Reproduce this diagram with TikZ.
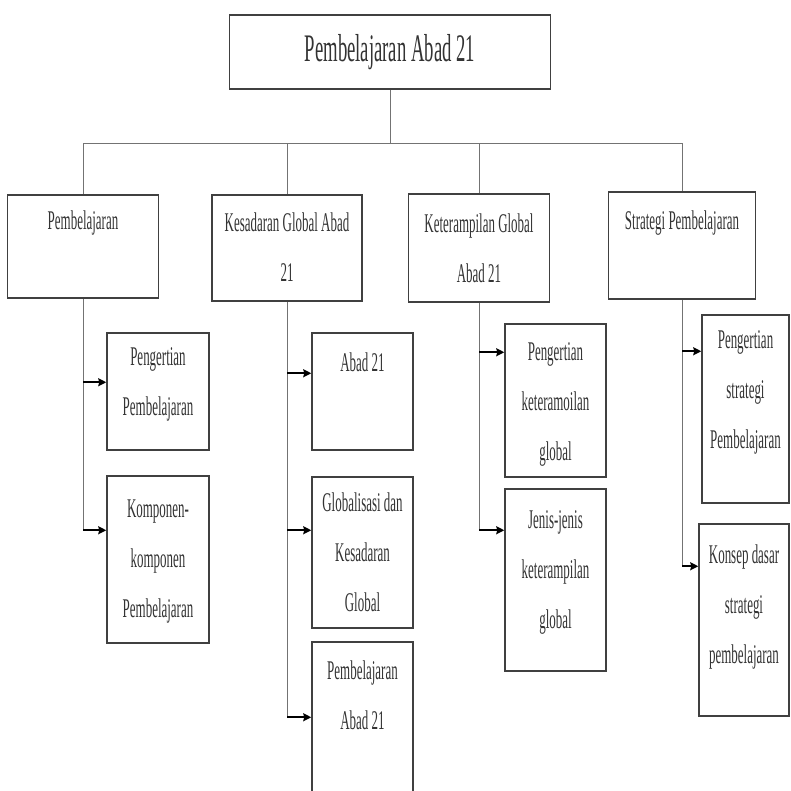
\documentclass[tikz,border=0pt]{standalone}
\usepackage{fontspec}
\newfontfamily\narrowserif[FakeStretch=0.48]{Liberation Serif}
\usetikzlibrary{arrows.meta, positioning}

\begin{document}
\begin{tikzpicture}[x=1pt, y=-1pt, >={Stealth[length=8pt, width=8pt, inset=1pt]}, thick]
  \tikzstyle{box} = [rectangle, draw=black!75, line width=1.5pt, inner sep=0pt]
  \tikzstyle{txt} = [align=center, inner sep=0pt, text=black!80, font=\narrowserif\fontsize{27pt}{50pt}\selectfont]
  \tikzstyle{line} = [draw=black!55, line width=0.9pt]
  \tikzstyle{arr} = [->, draw=black, line width=1.8pt]

  \useasboundingbox (0,0) rectangle (791,790);

  % top
  \node[box, txt, font=\narrowserif\fontsize{39pt}{47pt}\selectfont, minimum width=321pt, minimum height=74pt] (Root) at (390,52) {Pembelajaran Abad 21};
  \coordinate (Bar) at (390,143);

  % first level
  \node[box, minimum width=151pt, minimum height=103pt] (Belajar) at (83,246.5) {};
  \node[box, minimum width=150pt, minimum height=106pt] (Sadar) at (287,248) {};
  \node[box, minimum width=141pt, minimum height=108pt] (Terampil) at (479,248) {};
  \node[box, minimum width=147pt, minimum height=107pt] (Strategi) at (682,245.5) {};

  \node[txt, below=16pt of Belajar.north] {Pembelajaran};
  \node[txt, below=18pt of Sadar.north] {Kesadaran Global Abad\\21};
  \node[txt, below=20pt of Terampil.north] {Keterampilan Global\\Abad 21};
  \node[txt, below=19pt of Strategi.north] {Strategi Pembelajaran};

  % second level
  \node[box, minimum width=102pt, minimum height=117pt] (Pengertian) at (158,391.5) {};
  \node[box, minimum width=102pt, minimum height=167pt] (Komponen) at (158,559.5) {};
  \node[box, minimum width=101pt, minimum height=117pt] (Abad) at (362.5,391.5) {};
  \node[box, minimum width=101pt, minimum height=151pt] (Globalisasi) at (362.5,552.5) {};
  \node[box, minimum width=101pt, minimum height=153pt] (BelajarAbad) at (362.5,718.5) {};
  \node[box, minimum width=101pt, minimum height=153pt] (ArtiTerampil) at (555.5,400.5) {};
  \node[box, minimum width=101pt, minimum height=182pt] (Jenis) at (555.5,580) {};
  \node[box, minimum width=87pt, minimum height=188pt] (ArtiStrategi) at (745.5,409) {};
  \node[box, minimum width=90pt, minimum height=192pt] (Konsep) at (744,620) {};

  \node[txt, below=15pt of Pengertian.north] {Pengertian\\Pembelajaran};
  \node[txt, below=24pt of Komponen.north] {Komponen-\\komponen\\Pembelajaran};
  \node[txt, below=20pt of Abad.north] {Abad 21};
  \node[txt, below=16pt of Globalisasi.north] {Globalisasi dan\\Kesadaran\\Global};
  \node[txt, below=19pt of BelajarAbad.north] {Pembelajaran\\Abad 21};
  \node[txt, below=19pt of ArtiTerampil.north] {Pengertian\\keteramoilan\\global};
  \node[txt, below=22pt of Jenis.north] {Jenis-jenis\\keterampilan\\global};
  \node[txt, below=16pt of ArtiStrategi.north] {Pengertian\\strategi\\Pembelajaran};
  \node[txt, below=21pt of Konsep.north] {Konsep dasar\\strategi\\pembelajaran};

  % arrow ends
  \coordinate (kPengertian) at ([yshift=-50pt]Pengertian.north west);
  \coordinate (kKomponen) at ([yshift=-55pt]Komponen.north west);
  \coordinate (kAbad) at ([yshift=-41pt]Abad.north west);
  \coordinate (kGlobalisasi) at ([yshift=-54pt]Globalisasi.north west);
  \coordinate (kBelajarAbad) at ([yshift=-76pt]BelajarAbad.north west);
  \coordinate (kArtiTerampil) at ([yshift=-29pt]ArtiTerampil.north west);
  \coordinate (kJenis) at ([yshift=-42pt]Jenis.north west);
  \coordinate (kArtiStrategi) at ([yshift=-37pt]ArtiStrategi.north west);
  \coordinate (kKonsep) at ([yshift=-43pt]Konsep.north west);

  % tree lines
  \draw[line] (Root.south) -- (Bar);
  \draw[line] (Belajar.north |- Bar) -- (Strategi.north |- Bar);
  \foreach \n in {Belajar, Sadar, Terampil, Strategi}
    \draw[line] (\n.north |- Bar) -- (\n.north);

  \draw[line] (Belajar.south) -- (Belajar.south |- kKomponen);
  \draw[line] (Sadar.south) -- (Sadar.south |- kBelajarAbad);
  \draw[line] (Terampil.south) -- (Terampil.south |- kJenis);
  \draw[line] (Strategi.south) -- (Strategi.south |- kKonsep);

  \foreach \k in {Pengertian, Komponen}
    \draw[arr] (Belajar.south |- k\k) -- (k\k);
  \foreach \k in {Abad, Globalisasi, BelajarAbad}
    \draw[arr] (Sadar.south |- k\k) -- (k\k);
  \foreach \k in {ArtiTerampil, Jenis}
    \draw[arr] (Terampil.south |- k\k) -- (k\k);
  \foreach \k in {ArtiStrategi, Konsep}
    \draw[arr] (Strategi.south |- k\k) -- (k\k);
\end{tikzpicture}
\end{document}
